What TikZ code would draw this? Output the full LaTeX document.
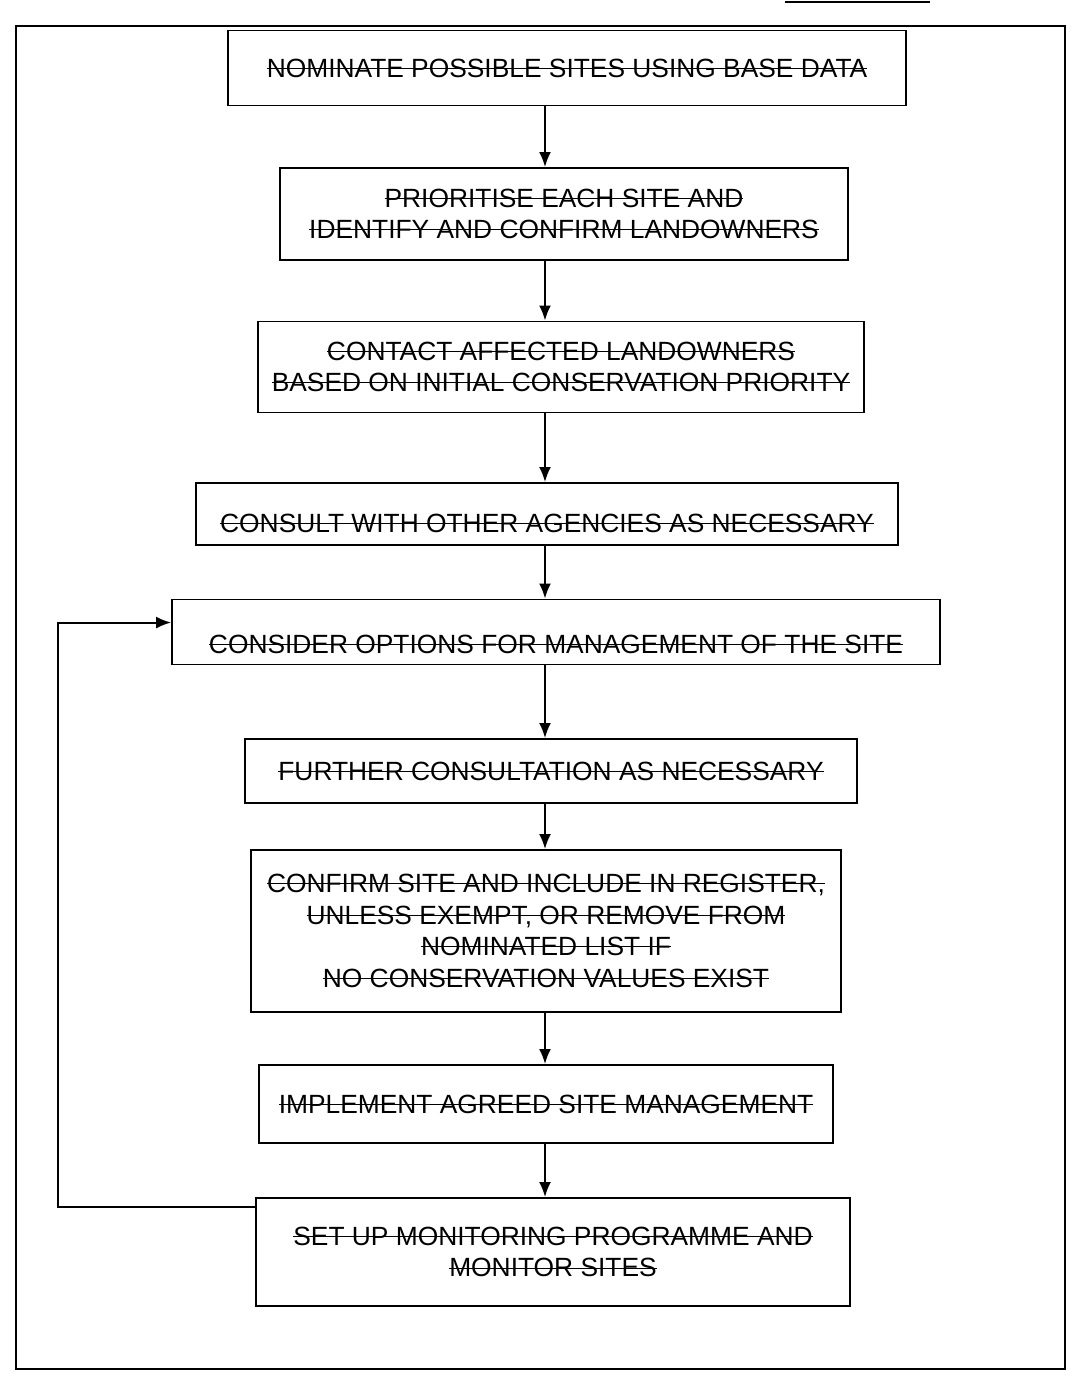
\documentclass[tikz,border=0pt]{standalone}
\usepackage{fontspec}
\setmainfont{Liberation Sans}
\usetikzlibrary{arrows.meta}
\newcommand\struck[1]{{\setbox0=\hbox{#1}\rlap{\rule[0.33em]{\wd0}{0.4pt}}\box0}}

\begin{document}
\begin{tikzpicture}[x=0.02cm,y=-0.02cm,
   every node/.style={font=\fontsize{15pt}{18pt}\selectfont},
   stage/.style={draw,line width=1.1pt,align=center,inner sep=0pt},
   flow/.style={line width=1.1pt,-{Latex[length=0.3cm,width=0.24cm]}}]
\useasboundingbox (0,0) rectangle (1071,1383);
\draw[line width=1.1pt] (16,26) rectangle (1065,1369);
\draw[line width=1.1pt] (785,2) -- (930,2);
\coordinate (spine) at (545,0);
\node[stage,minimum width=13.56cm,minimum height=1.5cm] (nominate) at (567,68)
   {\struck{NOMINATE POSSIBLE SITES USING BASE DATA}};
\node[stage,minimum width=11.36cm,minimum height=1.84cm] (prioritise) at (564,214)
   {\struck{PRIORITISE EACH SITE AND}\\\struck{IDENTIFY AND CONFIRM LANDOWNERS}};
\node[stage,minimum width=12.12cm,minimum height=1.82cm] (contact) at (561,367)
   {\struck{CONTACT AFFECTED LANDOWNERS}\\
    \struck{BASED ON INITIAL CONSERVATION PRIORITY}};
\node[stage,minimum width=14.04cm,text height=0.9cm,text depth=0.16cm,
   minimum height=1.24cm] (consult) at (547,514)
   {\struck{CONSULT WITH OTHER AGENCIES AS NECESSARY}};
\node[stage,minimum width=15.36cm,text height=1.0cm,text depth=0.16cm,
   minimum height=1.3cm] (consider) at (556,632)
   {\struck{CONSIDER OPTIONS FOR MANAGEMENT OF THE SITE}};
\node[stage,minimum width=12.24cm,minimum height=1.28cm] (further) at (551,771)
   {\struck{FURTHER CONSULTATION AS NECESSARY}};
\node[stage,minimum width=11.82cm,minimum height=3.24cm] (confirm) at (546,931)
   {\struck{CONFIRM SITE AND INCLUDE IN REGISTER,}\\
    \struck{UNLESS EXEMPT, OR REMOVE FROM}\\
    \struck{NOMINATED LIST IF}\\\struck{NO CONSERVATION VALUES EXIST}};
\node[stage,minimum width=11.5cm,minimum height=1.56cm] (implement) at (546,1104)
   {\struck{IMPLEMENT AGREED SITE MANAGEMENT}};
\node[stage,minimum width=11.9cm,minimum height=2.16cm] (setup) at (553,1252)
   {\struck{SET UP MONITORING PROGRAMME AND}\\\struck{MONITOR SITES}};
% main sequence
\foreach \a/\b in {nominate/prioritise,prioritise/contact,contact/consult,
   consult/consider,consider/further,further/confirm,confirm/implement,
   implement/setup}
   \draw[flow] (\a.south -| spine) -- (\b.north -| spine);
% back to the options step
\draw[flow] ([yshift=-0.2cm]setup.north west) -- ++(-3.94cm,0)
   |- ([yshift=-0.48cm]consider.north west);
\end{tikzpicture}
\end{document}
